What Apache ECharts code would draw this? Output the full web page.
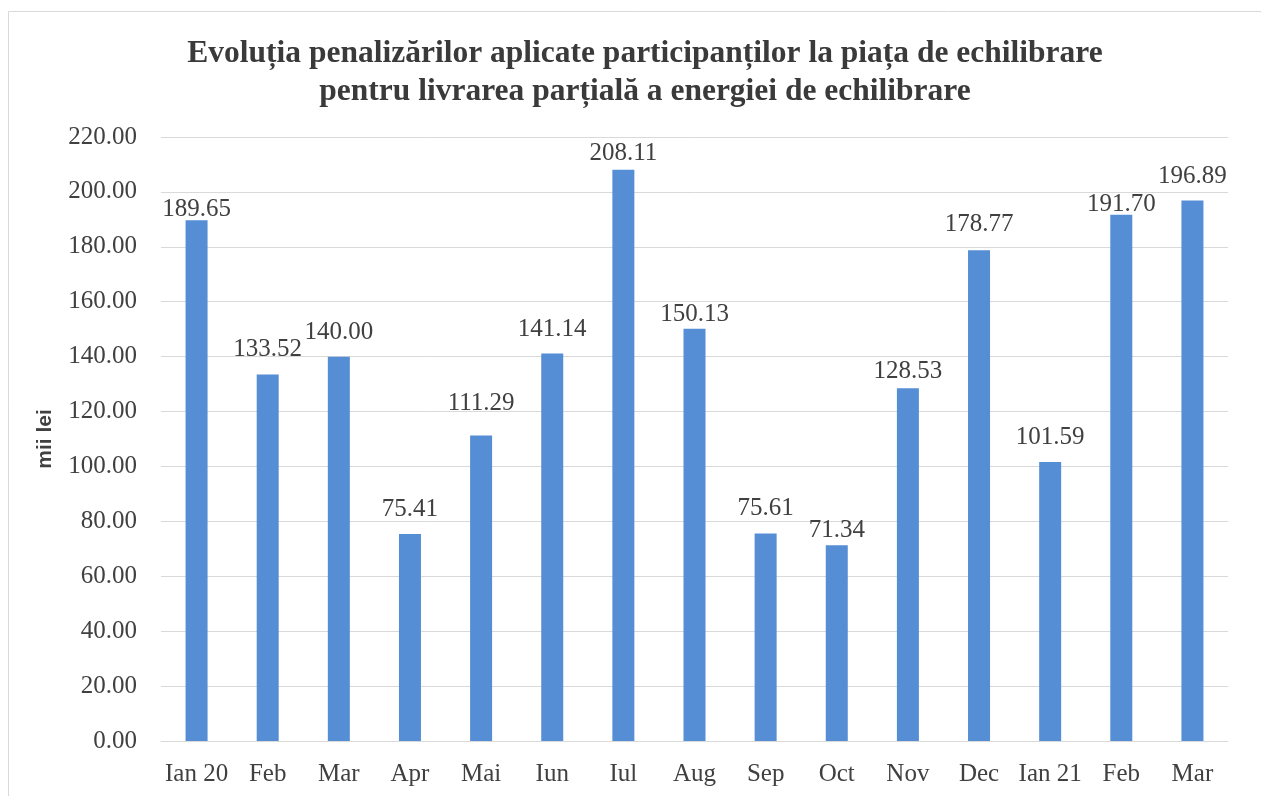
<!DOCTYPE html>
<html>
<head>
<meta charset="utf-8">
<script src="https://cdn.jsdelivr.net/npm/echarts@6/dist/echarts.min.js"></script>
<style>
  html, body { margin: 0; padding: 0; background: #ffffff; }
  #chart { width: 1261px; height: 796px; }
</style>
</head>
<body>
<div id="chart"></div>
<script>
// luni (categorii) si penalizari, mii lei
const months = ['Ian 20', 'Feb', 'Mar', 'Apr', 'Mai', 'Iun', 'Iul', 'Aug', 'Sep', 'Oct', 'Nov', 'Dec', 'Ian 21', 'Feb', 'Mar']
const penalties = [189.65, 133.52, 140.00, 75.41, 111.29, 141.14, 208.11, 150.13, 75.61, 71.34, 128.53, 178.77, 101.59, 191.70, 196.89]
// distanta etichetelor fata de bara (unele au fost mutate manual in original)
const labelGaps = [-1.5, 12, 12, 12, 20, 12, 3.5, 2, 12, 2.5, 4.5, 13, 12, -2.5, 12]
const titleLines = [
  'Evoluția penalizărilor aplicate participanților la piața de echilibrare',
  'pentru livrarea parțială a energiei de echilibrare'
]
const yName = 'mii lei'

const serif = '"Liberation Serif", "Times New Roman", serif'
const textColor = '#404040'

const myChart = echarts.init(document.getElementById('chart'))
myChart.setOption({
  animation: false,
  title: {
    text: titleLines.join('\n'),
    left: 640,
    top: 30,
    textAlign: 'center',
    textStyle: {
      fontFamily: serif,
      fontWeight: 'bold',
      fontSize: 31.5,
      lineHeight: 38,
      color: '#3a3a3a'
    }
  },
  graphic: [{
    type: 'rect',
    shape: { x: 8.5, y: 11.5, width: 1300, height: 900 },
    style: { fill: 'none', stroke: '#d9d9d9', lineWidth: 1 },
    silent: true
  }],
  grid: {
    left: 161,
    right: 33,
    top: 137,
    bottom: 55
  },
  xAxis: {
    type: 'category',
    data: months,
    axisLine: { lineStyle: { color: '#d9d9d9', width: 1 } },
    axisTick: { show: false },
    axisLabel: {
      interval: 0,
      margin: 21,
      fontFamily: serif,
      fontSize: 25,
      color: textColor
    }
  },
  yAxis: {
    type: 'value',
    min: 0,
    max: 220,
    interval: 20,
    name: yName,
    nameLocation: 'middle',
    nameGap: 105,
    nameRotate: 90,
    nameTextStyle: {
      fontFamily: '"Liberation Sans", Arial, sans-serif',
      fontWeight: 'bold',
      fontSize: 21,
      color: textColor
    },
    axisLine: { show: false },
    axisTick: { show: false },
    splitLine: { lineStyle: { color: '#d9d9d9', width: 1 } },
    axisLabel: {
      margin: 24,
      fontFamily: serif,
      fontSize: 25,
      color: textColor,
      formatter: v => v.toFixed(2)
    }
  },
  series: [{
    type: 'bar',
    data: penalties.map((v, i) => ({
      value: v,
      label: { distance: labelGaps[i] }
    })),
    barWidth: 22,
    itemStyle: { color: '#558ed5' },
    label: {
      show: true,
      position: 'top',
      fontFamily: serif,
      fontSize: 25,
      color: textColor,
      formatter: p => p.value.toFixed(2)
    }
  }]
})
</script>
</body>
</html>
